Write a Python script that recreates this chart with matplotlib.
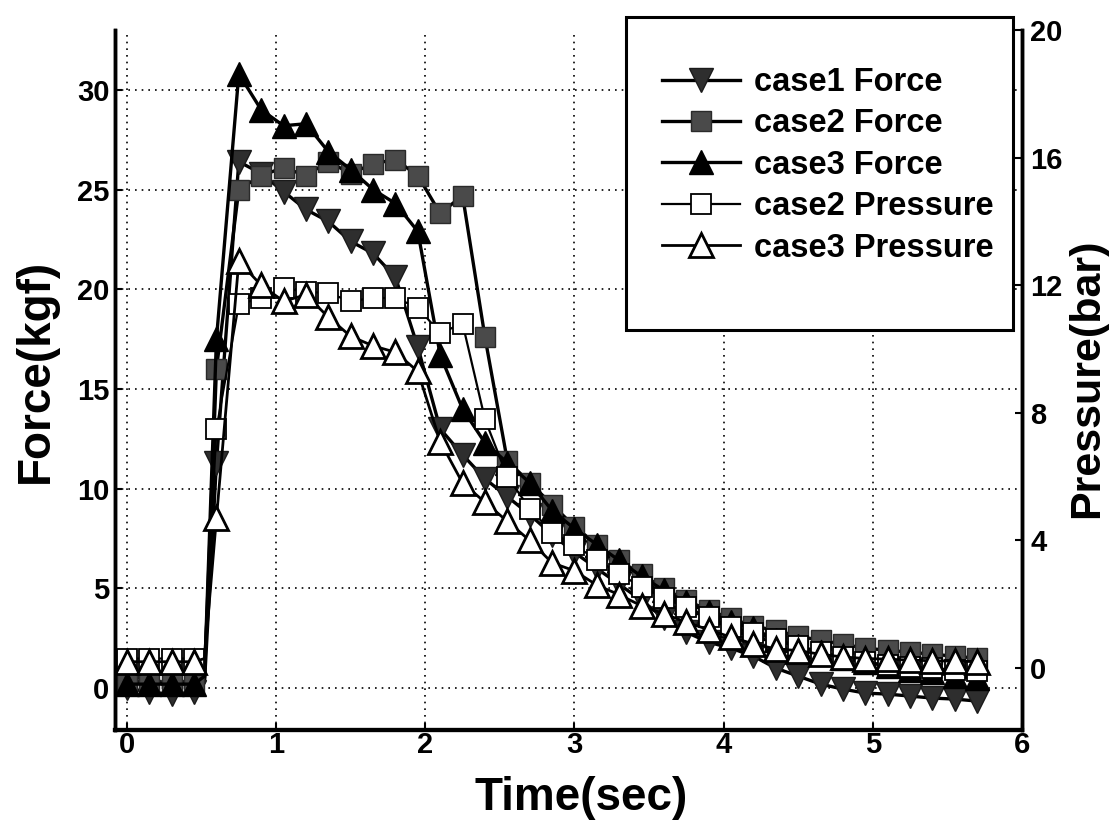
import matplotlib
matplotlib.use("Agg")
import matplotlib.pyplot as plt
from matplotlib.patches import Rectangle

# ---------------- data ----------------
time_s = [0, 0.15, 0.3, 0.45, 0.52, 0.6, 0.75, 0.9, 1.05, 1.2, 1.35, 1.5, 1.65,
          1.8, 1.95, 2.1, 2.25, 2.4, 2.55, 2.7, 2.85, 3.0, 3.15, 3.3, 3.45, 3.6,
          3.75, 3.9, 4.05, 4.2, 4.35, 4.5, 4.65, 4.8, 4.95, 5.1, 5.25, 5.4, 5.55, 5.7]

case1_force = [0.0, -0.2, -0.3, -0.2, 0.3, 11.3, 26.4, 25.8, 24.9, 24.0, 23.4, 22.4,
               21.8, 20.6, 17.1, 13.0, 11.7, 10.5, 9.6, 8.7, 7.7, 6.8, 6.0, 5.2,
               4.4, 3.5, 2.8, 2.3, 2.0, 1.6, 1.0, 0.6, 0.2, -0.05, -0.25, -0.3,
               -0.4, -0.5, -0.55, -0.65]

case2_force = [0.3, 0.2, 0.3, 0.2, 0.5, 16.0, 25.0, 25.7, 26.1, 25.7, 26.4, 25.8,
               26.3, 26.5, 25.7, 23.8, 24.7, 17.6, 11.4, 10.3, 9.2, 8.1, 7.2, 6.4,
               5.7, 5.0, 4.4, 3.9, 3.5, 3.1, 2.9, 2.6, 2.4, 2.2, 2.0, 1.9, 1.8,
               1.7, 1.6, 1.5]

case3_force = [0.2, 0.2, 0.2, 0.2, 0.6, 17.5, 30.8, 29.0, 28.2, 28.3, 26.9, 26.0,
               25.0, 24.3, 22.9, 16.7, 14.0, 12.3, 11.3, 10.3, 8.9, 8.0, 7.2, 6.4,
               5.6, 4.9, 4.3, 3.8, 3.3, 3.0, 2.4, 2.1, 1.8, 1.5, 1.3, 1.1, 0.9,
               0.8, 0.6, 0.5]

case2_pressure = [0.3, 0.3, 0.3, 0.3, 0.4, 7.5, 11.4, 11.6, 11.9, 11.8, 11.75, 11.5,
                  11.6, 11.6, 11.3, 10.5, 10.8, 7.8, 6.0, 5.0, 4.25, 3.85, 3.4, 2.95,
                  2.55, 2.2, 1.9, 1.6, 1.3, 1.1, 0.9, 0.7, 0.5, 0.35, 0.2, 0.1, 0.05,
                  0.0, -0.05, -0.1]

case3_pressure = [0.2, 0.2, 0.2, 0.2, 0.3, 4.7, 12.75, 12.0, 11.5, 11.7, 11.0, 10.4,
                  10.1, 9.9, 9.3, 7.1, 5.8, 5.2, 4.6, 4.0, 3.3, 3.05, 2.6, 2.3, 1.95,
                  1.7, 1.44, 1.2, 0.97, 0.76, 0.6, 0.55, 0.43, 0.35, 0.3, 0.28, 0.25,
                  0.23, 0.22, 0.2]

labels = ["case1 Force", "case2 Force", "case3 Force", "case2 Pressure", "case3 Pressure"]
x_ticks = [0, 1, 2, 3, 4, 5, 6]
force_ticks = [0, 5, 10, 15, 20, 25, 30]
pressure_ticks = [0, 4, 8, 12, 16, 20]

# ---------------- style ----------------
FONT = "Liberation Sans"
plt.rcParams["font.family"] = [FONT, "DejaVu Sans"]
plt.rcParams["font.weight"] = "bold"

fig = plt.figure(figsize=(11.11, 8.26), dpi=100)
ax = fig.add_axes([115 / 1111, 1 - 730 / 826, 907 / 1111, 700 / 826])
ax2 = ax.twinx()

mark_idx = [i for i in range(len(time_s)) if i != 4]

l1, = ax.plot(time_s, case1_force, color="black", lw=2.4, marker="v", ms=17,
              mfc="#2e2e2e", mec="#1a1a1a", mew=1.0, markevery=mark_idx)
l2, = ax.plot(time_s, case2_force, color="black", lw=2.4, marker="s", ms=14,
              mfc="#4a4a4a", mec="#2a2a2a", mew=1.0, markevery=mark_idx)
l3, = ax.plot(time_s, case3_force, color="black", lw=2.4, marker="^", ms=17,
              mfc="black", mec="black", mew=1.0, markevery=mark_idx)
l4, = ax2.plot(time_s, case2_pressure, color="black", lw=1.6, marker="s", ms=14,
               mfc="white", mec="black", mew=1.3, markevery=mark_idx)
l5, = ax2.plot(time_s, case3_pressure, color="black", lw=2.0, marker="^", ms=17,
               mfc="white", mec="black", mew=2.0, markevery=mark_idx)

ax.set_xlim(-0.08, 6.0)
ax.set_ylim(-2.1, 33.0)
ax2.set_ylim(-1.94, 19.95)

ax.set_xticks(x_ticks)
ax.set_yticks(force_ticks)
ax2.set_yticks(pressure_ticks)

tick_font = dict(fontsize=21, fontweight="bold", family=FONT)
ax.set_xticklabels([str(v) for v in x_ticks], **tick_font)
ax.set_yticklabels([str(v) for v in force_ticks], **tick_font)
ax2.set_yticklabels([str(v) for v in pressure_ticks], **tick_font)

ax.tick_params(axis="x", direction="in", length=5, width=1.5, pad=1)
ax.tick_params(axis="y", direction="in", length=5, width=1.5, pad=4)
ax2.tick_params(axis="y", direction="in", length=5, width=1.5, pad=6)

ax.grid(True, color="black", linestyle=(0, (1, 3)), linewidth=1.2)

for a in (ax, ax2):
    a.spines["top"].set_visible(False)
    a.spines["left"].set_linewidth(2.5)
    a.spines["bottom"].set_linewidth(3.0)
    a.spines["right"].set_linewidth(2.5)

lab_font = dict(fontsize=33, fontweight="bold", family=FONT)
ax.set_xlabel("Time(sec)", **lab_font)
ax.xaxis.set_label_coords(0.514, -0.066)
ax.set_ylabel("Force(kgf)", **lab_font)
ax.yaxis.set_label_coords(-0.063, 0.513)
ax2.set_ylabel("Pressure(bar)", fontsize=31, fontweight="bold", family=FONT)
ax2.yaxis.set_label_coords(1.050, 0.502)

# legend box (drawn as a figure-level frame) and legend entries
fig.patches.append(Rectangle((626 / 1111, 1 - 330 / 826), 387 / 1111, 313 / 826,
                             transform=fig.transFigure, facecolor="white",
                             edgecolor="black", lw=2.2, zorder=3))
fig.legend([l1, l2, l3, l4, l5], labels, loc="upper left",
           bbox_to_anchor=(662 / 1111, 1 - 67 / 826), bbox_transform=fig.transFigure,
           frameon=False, borderpad=0, borderaxespad=0, handlelength=2.4,
           handletextpad=0.42, labelspacing=0.32,
           prop=dict(family=FONT, weight="bold", size=23.5))

fig.savefig("out.png", dpi=100)
